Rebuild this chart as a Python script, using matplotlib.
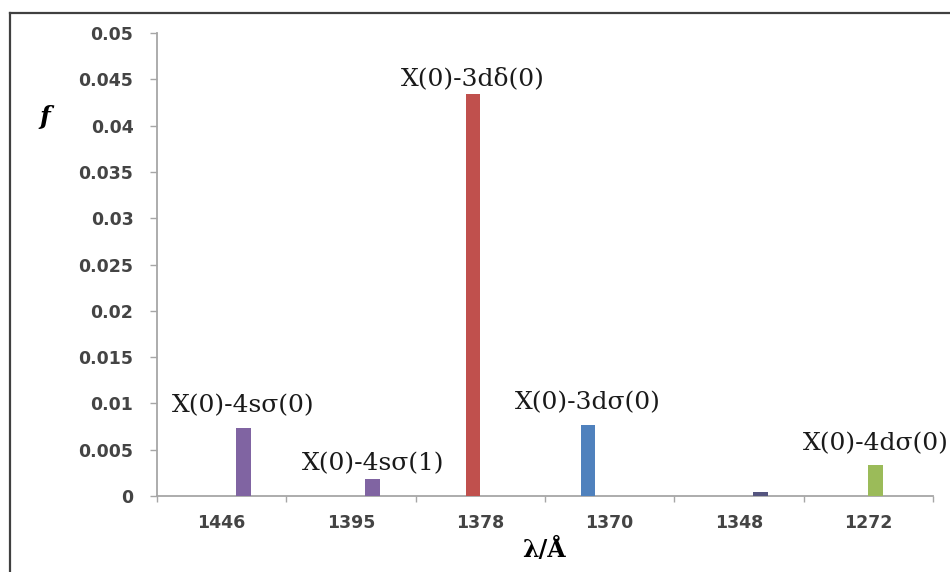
"""Oszillatorstärken f der Übergänge über der Wellenlänge."""

import matplotlib.pyplot as plt
from matplotlib.lines import Line2D
from matplotlib.ticker import FuncFormatter
import numpy as np

# Daten
wavelengths = ['1446', '1395', '1378', '1370', '1348', '1272']
f_values = [0.0073, 0.0018, 0.0434, 0.0077, 0.0004, 0.0033]
transitions = ['X(0)-4sσ(0)', 'X(0)-4sσ(1)', 'X(0)-3dδ(0)',
               'X(0)-3dσ(0)', '', 'X(0)-4dσ(0)']

# Excel-Reihe (Slot im Cluster von 6) und Farbe je Balken
series_slot = [4, 4, 2, 1, 4, 3]
bar_colors = ['#8064A2', '#8064A2', '#C0504D', '#4F81BD', '#55557F', '#9BBB59']
label_dy = [23, 16, 15, 22, 0, 22]  # Pixelabstand Beschriftung über Balken

N_SLOTS = 6
BAR_W = 0.112

fig = plt.figure(figsize=(9.5, 5.72), dpi=100)
ax = fig.add_axes([157 / 950, 1 - 496 / 572, 776 / 950, 463 / 572])

x = np.arange(len(wavelengths))
offsets = (np.array(series_slot) - (N_SLOTS - 1) / 2) * BAR_W
ax.bar(x + offsets, f_values, width=BAR_W, color=bar_colors, zorder=3)

for xi, val, txt, dy in zip(x + offsets, f_values, transitions, label_dy):
    if not txt:
        continue
    ax.annotate(txt, (xi, val), xytext=(0, dy * 0.72), textcoords='offset points',
                ha='center', va='center', fontsize=18, family='DejaVu Serif',
                color='#1a1a1a', annotation_clip=False)

ax.set_xlim(-0.5, len(wavelengths) - 0.5)
ax.set_ylim(0, 0.05)
ax.set_yticks(np.arange(0, 0.0501, 0.005))
ax.yaxis.set_major_formatter(FuncFormatter(lambda v, p: f'{v:g}'))

ax.set_xticks(x)
ax.set_xticklabels(wavelengths)
ax.set_xticks(np.arange(-0.5, len(wavelengths)), minor=True)

for side in ['top', 'right']:
    ax.spines[side].set_visible(False)
for side in ['left', 'bottom']:
    ax.spines[side].set_color('#a6a6a6')
    ax.spines[side].set_linewidth(1.3)

ax.tick_params(axis='y', direction='out', length=5, width=1, color='#a6a6a6',
               pad=12, labelsize=12.5, labelcolor='#444444')
ax.tick_params(axis='x', which='major', length=0, pad=13, labelsize=12.5,
               labelcolor='#444444')
ax.tick_params(axis='x', which='minor', direction='out', length=4, width=1,
               color='#a6a6a6')
for lbl in ax.get_xticklabels() + ax.get_yticklabels():
    lbl.set_fontweight('bold')

ax.set_ylabel('f', rotation=0, fontsize=18, family='DejaVu Serif',
              fontweight='bold', fontstyle='italic', va='center', ha='center')
ax.yaxis.set_label_coords(-0.144, 0.819)
ax.set_xlabel('λ/Å', fontsize=17, family='DejaVu Serif', fontweight='bold',
              va='center')
ax.xaxis.set_label_coords(0.499, -0.117)

# Rahmen oben und links
fig.add_artist(Line2D([10 / 950, 1], [1 - 13 / 572] * 2, color='#404040', lw=1.6))
fig.add_artist(Line2D([10 / 950] * 2, [0, 1 - 13 / 572], color='#404040', lw=1.6))

fig.savefig('out.png', dpi=100)
